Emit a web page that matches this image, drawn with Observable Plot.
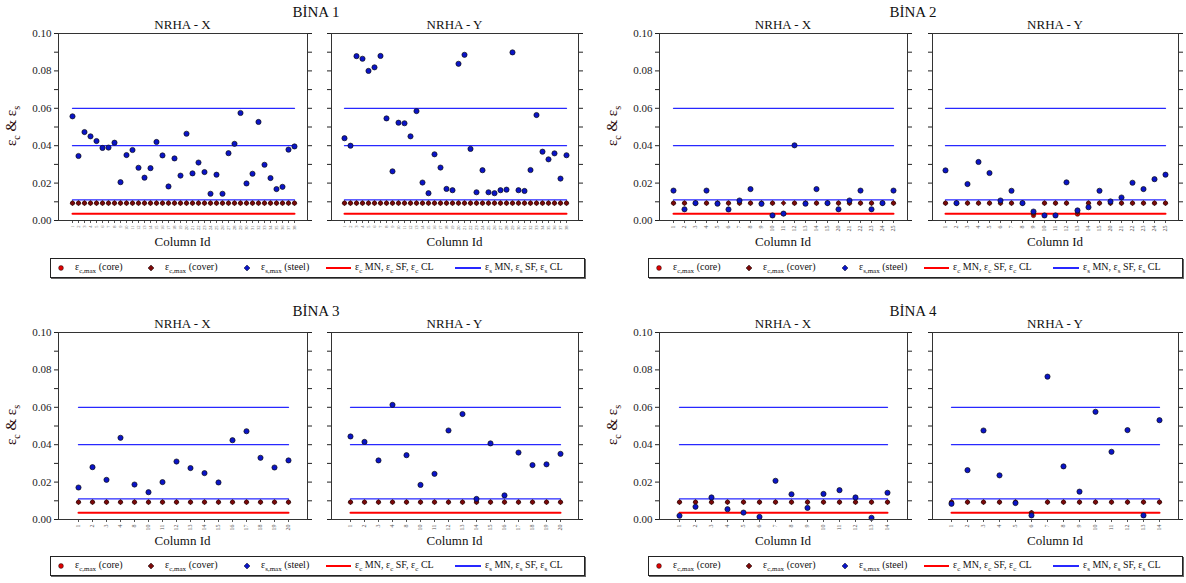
<!DOCTYPE html>
<html><head><meta charset="utf-8">
<script src="https://cdn.jsdelivr.net/npm/d3@7"></script>
<script src="https://cdn.jsdelivr.net/npm/@observablehq/plot@0.6"></script>
<style>
body{margin:0;background:#fff;font-family:'Liberation Serif','Times New Roman',serif;}
#root{position:relative;width:1186px;height:583px;overflow:hidden;background:#fff;}
.abs{position:absolute;white-space:nowrap;}
.ctr{transform:translate(-50%,-50%);}
.btitle{font-size:15px;color:#111;}
.ptitle{font-size:13px;color:#111;}
.xlab{font-size:13px;color:#111;}
.ylab{font-size:15px;color:#2a0a0a;transform:translate(-50%,-50%) rotate(-90deg);}
.ylab sub{font-size:10px;}
.legend{border:1px solid #222;box-shadow:1px 1px 0 #666;background:#fff;height:18px;}
.legend .t{font-size:10px;color:#111;top:2px;}
.legend sub{font-size:7px;}
</style></head><body><div id="root"></div>
<script>
// ---------- data ----------
const yMajor = [0, 0.02, 0.04, 0.06, 0.08, 0.10];
const yMinor = [0.01, 0.03, 0.05, 0.07, 0.09];
const steelLimits = [0.06, 0.04, 0.011];   // εs MN, SF, CL
const concreteLimits = [0.0036];           // εc MN, SF, CL

const b1Labels = ["1","2","3","4","5","6","7","8","9","10","11","12","13","14","15","16","17","18","19","20","21","22","23","24","25","26","27","28","29","30","31","32","33","34","35","36","37","38"];
const b1XCore  = [0.0093,0.0093,0.0093,0.0093,0.0093,0.0093,0.0093,0.0093,0.0093,0.0093,0.0093,0.0093,0.0093,0.0093,0.0093,0.0093,0.0093,0.0093,0.0093,0.0093,0.0093,0.0093,0.0093,0.0093,0.0093,0.0093,0.0093,0.0093,0.0093,0.0093,0.0093,0.0093,0.0093,0.0093,0.0093,0.0093,0.0093,0.0093];
const b1XCover = [0.0093,0.0093,0.0093,0.0093,0.0093,0.0093,0.0093,0.0093,0.0093,0.0093,0.0093,0.0093,0.0093,0.0093,0.0093,0.0093,0.0093,0.0093,0.0093,0.0093,0.0093,0.0093,0.0093,0.0093,0.0093,0.0093,0.0093,0.0093,0.0093,0.0093,0.0093,0.0093,0.0093,0.0093,0.0093,0.0093,0.0093,0.0093];
const b1XSteel = [0.0557,0.0345,0.0473,0.045,0.0425,0.0388,0.039,0.0416,0.0205,0.035,0.0377,0.0282,0.0229,0.028,0.042,0.0348,0.0182,0.0332,0.024,0.0464,0.0252,0.031,0.0259,0.0143,0.0245,0.0143,0.036,0.041,0.0575,0.0198,0.025,0.0527,0.0298,0.0227,0.0168,0.018,0.0379,0.0396];
const b1YCore  = b1XCore;
const b1YCover = b1XCover;
const b1YSteel = [0.044,0.040,0.0879,0.0865,0.080,0.0819,0.088,0.0546,0.0263,0.0523,0.052,0.045,0.0585,0.0203,0.0146,0.0354,0.0283,0.0169,0.0162,0.0838,0.0886,0.0383,0.0151,0.0269,0.0151,0.0146,0.0162,0.0165,0.0899,0.0162,0.0158,0.027,0.0564,0.0368,0.0327,0.0359,0.0224,0.0349];

const b2Labels = ["1","2","3","4","5","6","7","8","9","10","11","12","13","14","15","20","21","22","23","24","25"];
const b2XCore  = [0.0093,0.0093,0.0093,0.0093,0.0093,0.0093,0.0093,0.0093,0.0093,0.0093,0.0036,0.0093,0.0093,0.0093,0.0093,0.0093,0.0093,0.0093,0.0093,0.0093,0.0093];
const b2XCover = [0.0093,0.0093,0.0093,0.0093,0.0093,0.0093,0.0093,0.0093,0.0093,0.0093,0.0093,0.0093,0.0093,0.0093,0.0093,0.0093,0.0093,0.0093,0.0093,0.0093,0.0093];
const b2XSteel = [0.016,0.006,0.0093,0.016,0.009,0.0059,0.0107,0.0168,0.0089,0.0027,0.0037,0.0402,0.009,0.0168,0.0093,0.006,0.0107,0.016,0.006,0.0093,0.016];
const b2YCore  = [0.0093,0.0093,0.0093,0.0093,0.0093,0.0093,0.0093,0.0093,0.0027,0.0093,0.0093,0.0093,0.0034,0.0093,0.0093,0.0093,0.0093,0.0093,0.0093,0.0093,0.0093];
const b2YCover = [0.0093,0.0093,0.0093,0.0093,0.0093,0.0093,0.0093,0.0093,0.0036,0.0093,0.0093,0.0093,0.0045,0.0093,0.0093,0.0093,0.0093,0.0093,0.0093,0.0093,0.0093];
const b2YSteel = [0.0268,0.0093,0.0195,0.0313,0.0254,0.0107,0.0159,0.0093,0.0048,0.0027,0.0027,0.0204,0.0054,0.0071,0.0159,0.0102,0.0123,0.0202,0.0168,0.0221,0.0245];

const b3Labels = ["1","2","3","4","8","10","11","12","13","14","15","16","17","18","19","20"];
const b3XCore  = [0.0093,0.0093,0.0093,0.0093,0.0093,0.0093,0.0093,0.0093,0.0093,0.0093,0.0093,0.0093,0.0093,0.0093,0.0093,0.0093];
const b3XCover = [0.0093,0.0093,0.0093,0.0093,0.0093,0.0093,0.0093,0.0093,0.0093,0.0093,0.0093,0.0093,0.0093,0.0093,0.0093,0.0093];
const b3XSteel = [0.0171,0.028,0.0212,0.0437,0.0187,0.0146,0.020,0.031,0.0275,0.0248,0.0198,0.0424,0.0472,0.033,0.0278,0.0316];
const b3YCore  = b3XCore;
const b3YCover = b3XCover;
const b3YSteel = [0.0444,0.0415,0.0316,0.0613,0.0344,0.0185,0.0244,0.0476,0.0564,0.011,0.0407,0.0129,0.0358,0.0291,0.0295,0.0351];

const b4Labels = ["1","2","3","4","5","6","7","8","9","10","11","12","13","14"];
const b4XCore  = [0.0093,0.0093,0.0093,0.0093,0.0093,0.0093,0.0093,0.0093,0.0093,0.0093,0.0093,0.0093,0.0093,0.0093];
const b4XCover = [0.0093,0.0093,0.0093,0.0093,0.0093,0.0093,0.0093,0.0093,0.0093,0.0093,0.0093,0.0093,0.0093,0.0093];
const b4XSteel = [0.002,0.0068,0.0118,0.0055,0.0037,0.0014,0.0207,0.0135,0.0062,0.0137,0.0157,0.0118,0.0009,0.0143];
const b4YCore  = [0.0093,0.0093,0.0093,0.0093,0.0093,0.0036,0.0093,0.0093,0.0093,0.0093,0.0093,0.0093,0.0093,0.0093];
const b4YCover = [0.0093,0.0093,0.0093,0.0093,0.0093,0.0036,0.0093,0.0093,0.0093,0.0093,0.0093,0.0093,0.0093,0.0093];
const b4YSteel = [0.0084,0.0264,0.0476,0.0236,0.0088,0.0022,0.0764,0.0284,0.0149,0.0576,0.0362,0.0478,0.0022,0.0531];

const buildingTitles = ["BİNA 1","BİNA 2","BİNA 3","BİNA 4"];
const panelTitles = ["NRHA - X","NRHA - Y"];
const xTitle = "Column Id";
const legendLabels = [
  "ε<sub>c,max</sub> (core)",
  "ε<sub>c,max</sub> (cover)",
  "ε<sub>s,max</sub> (steel)",
  "ε<sub>c</sub> MN, ε<sub>c</sub> SF, ε<sub>c</sub> CL",
  "ε<sub>s</sub> MN, ε<sub>s</sub> SF, ε<sub>s</sub> CL"
];

// ---------- layout ----------
const root = document.getElementById("root");
const C_CORE = "#e00000", C_COVER = "#7a0808", C_STEEL = "#0a14c8", C_RED = "#ff0000", C_BLUE = "#2828ff";

function addDiv(cls, html, x, y, extra) {
  const d = document.createElement("div");
  d.className = "abs " + cls;
  d.innerHTML = html;
  d.style.left = x + "px"; d.style.top = y + "px";
  if (extra) Object.assign(d.style, extra);
  root.appendChild(d);
  return d;
}

function panel(labels, core, cover, steel, frame, showY, tickFont) {
  const mL = 45, mR = 8, mT = 4, mB = 18;
  const [x0, y0, x1, y1] = frame;
  const W = x1 - x0 + mL + mR, H = y1 - y0 + mT + mB;
  const rows = labels.map((c, i) => ({c, core: core[i], cover: cover[i], steel: steel[i]}));
  const lim = levels => levels.flatMap(v => labels.map(c => ({c, v})));
  const chart = Plot.plot({
    width: W, height: H, marginLeft: mL, marginRight: mR, marginTop: mT, marginBottom: mB,
    x: {type: "point", domain: labels, padding: 1},
    y: {domain: [0, 0.1]},
    style: {fontFamily: "'Liberation Serif', serif", fontSize: "11px", color: "#222", background: "none", overflow: "visible"},
    marks: [
      Plot.lineY(lim(steelLimits), {x: "c", y: "v", z: "v", stroke: C_BLUE, strokeWidth: 1.3}),
      Plot.lineY(lim(concreteLimits), {x: "c", y: "v", z: "v", stroke: C_RED, strokeWidth: 2}),
      Plot.dot(rows, {x: "c", y: "core", r: 2.2, fill: C_CORE, stroke: "#111", strokeWidth: 0.5}),
      Plot.dot(rows, {x: "c", y: "cover", symbol: "diamond2", r: 2.3, fill: C_COVER, stroke: "#111", strokeWidth: 0.5}),
      Plot.dot(rows, {x: "c", y: "steel", symbol: "circle", r: 2.6, fill: C_STEEL, stroke: "#111", strokeWidth: 0.7}),
      Plot.axisY({ticks: yMajor, tickSize: 4, tickPadding: 3, tickFormat: showY ? (d => d.toFixed(2)) : (() => ""), label: null}),
      Plot.axisY({ticks: yMinor, tickSize: 4, tickFormat: () => "", label: null}),
      Plot.axisY({anchor: "right", ticks: yMajor.concat(yMinor), tickSize: 4, tickFormat: () => "", label: null}),
      Plot.axisX({tickSize: 3, tickRotate: -90, fontSize: tickFont, tickPadding: 2, label: null, color: "#555"}),
      Plot.frame({stroke: "#333", strokeWidth: 1})
    ]
  });
  const holder = addDiv("", "", x0 - mL, y0 - mT, {width: W + "px", height: H + "px"});
  holder.appendChild(chart);
  addDiv("ptitle ctr", panelTitles[showY ? 0 : 1], (x0 + x1) / 2, y0 - 8);
  addDiv("xlab ctr", xTitle, (x0 + x1) / 2, y1 + 22);
}

function legend(left, top) {
  const box = addDiv("legend", "", left, top, {width: "533px"});
  const sym = (cx, shape, fill) => {
    const s = document.createElementNS("http://www.w3.org/2000/svg", "svg");
    s.setAttribute("width", 10); s.setAttribute("height", 10);
    s.style.position = "absolute"; s.style.left = (cx - 5) + "px"; s.style.top = "4px";
    s.innerHTML = shape === "circle"
      ? `<circle cx="5" cy="5" r="2.4" fill="${fill}" stroke="#111" stroke-width="0.5"/>`
      : `<path d="M5,2L8,5L5,8L2,5Z" fill="${fill}" stroke="#111" stroke-width="0.5"/>`;
    box.appendChild(s);
  };
  const line = (xa, xb, color) => {
    const l = document.createElement("div");
    Object.assign(l.style, {position: "absolute", left: xa + "px", width: (xb - xa) + "px", top: "8px", height: "2px", background: color});
    box.appendChild(l);
  };
  const txt = (x, html) => {
    const t = document.createElement("div");
    t.className = "abs t"; t.style.left = x + "px"; t.innerHTML = html;
    box.appendChild(t);
  };
  sym(10, "circle", C_CORE); txt(24, legendLabels[0]);
  sym(100, "diamond", C_COVER); txt(114, legendLabels[1]);
  sym(196, "diamond", C_STEEL); txt(210, legendLabels[2]);
  line(275, 300, C_RED); txt(304, legendLabels[3]);
  line(404, 430, C_BLUE); txt(434, legendLabels[4]);
}

const ylabHTML = "ε<sub>c</sub> &amp; ε<sub>s</sub>";

// Bina 1
addDiv("btitle ctr", buildingTitles[0], 316, 12);
addDiv("ylab", ylabHTML, 12, 126);
panel(b1Labels, b1XCore, b1XCover, b1XSteel, [58, 33, 307, 220], true, 4.5);
panel(b1Labels, b1YCore, b1YCover, b1YSteel, [331, 33, 578, 220], false, 4.5);
legend(50, 258);

// Bina 2
addDiv("btitle ctr", buildingTitles[1], 913, 12);
addDiv("ylab", ylabHTML, 613, 126);
panel(b2Labels, b2XCore, b2XCover, b2XSteel, [659, 33, 907, 220], true, 6);
panel(b2Labels, b2YCore, b2YCover, b2YSteel, [932, 33, 1178, 220], false, 6);
legend(648, 258);

// Bina 3
addDiv("btitle ctr", buildingTitles[2], 316, 311);
addDiv("ylab", ylabHTML, 12, 425);
panel(b3Labels, b3XCore, b3XCover, b3XSteel, [58, 332, 307, 519], true, 6);
panel(b3Labels, b3YCore, b3YCover, b3YSteel, [331, 332, 578, 519], false, 6);
legend(50, 556);

// Bina 4
addDiv("btitle ctr", buildingTitles[3], 913, 311);
addDiv("ylab", ylabHTML, 613, 425);
panel(b4Labels, b4XCore, b4XCover, b4XSteel, [659, 332, 907, 519], true, 6);
panel(b4Labels, b4YCore, b4YCover, b4YSteel, [932, 332, 1178, 519], false, 6);
legend(648, 556);
</script></body></html>
